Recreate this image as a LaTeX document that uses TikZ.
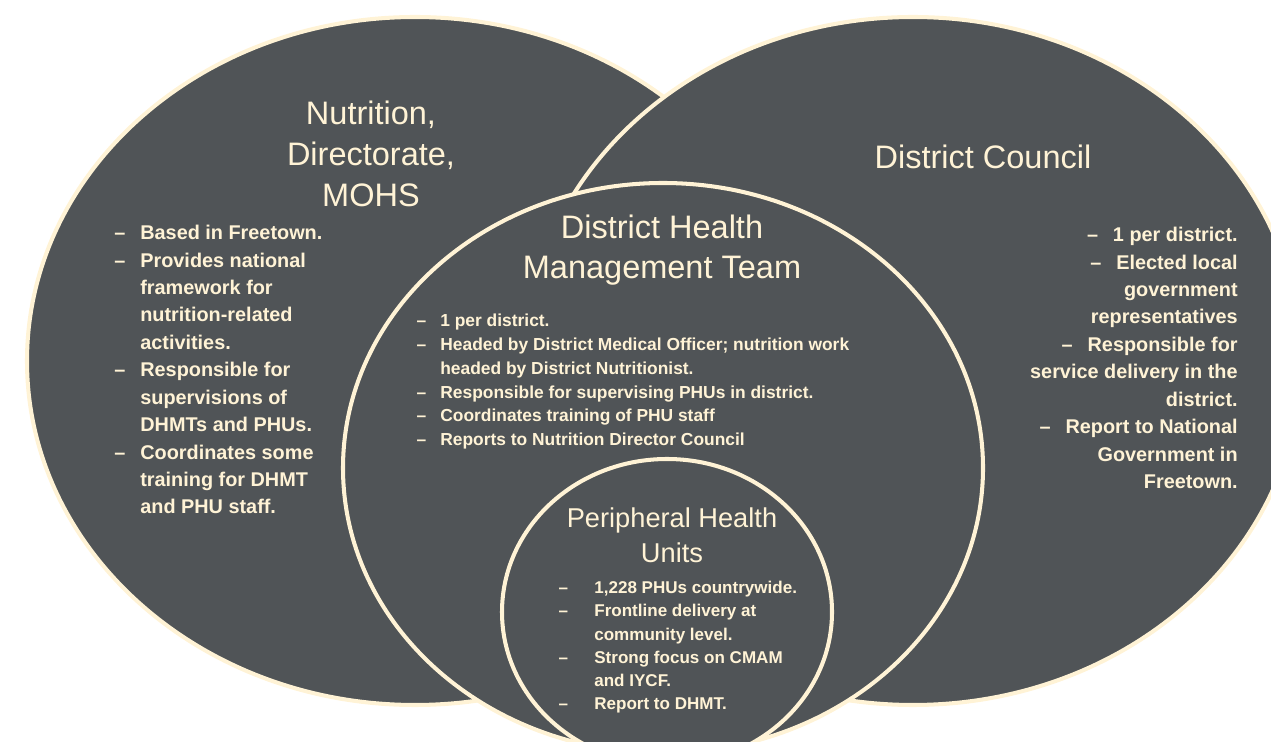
\documentclass[tikz,border=0pt]{standalone}
\usepackage{fontspec}
\setmainfont{Liberation Sans}
\usetikzlibrary{positioning}
\definecolor{slate}{RGB}{80,84,87}
\definecolor{cream}{RGB}{255,243,214}
% hanging dash in front of a list entry
\newcommand\itemdash[1][8.5pt]{\llap{--\hspace{#1}}}

\begin{document}
\begin{tikzpicture}[x=0.02cm,y=-0.02cm,
	zone/.style={fill=slate, draw=cream, line width=2.3pt},
	head/.style={text=cream, align=center, inner sep=0pt, font=\fontsize{18.5}{23.2}\selectfont},
	items/.style={text=cream, align=left, inner sep=0pt, anchor=north west, font=\bfseries\fontsize{11.3}{15.6}\selectfont}]

		\useasboundingbox (0,0) rectangle (1271,742);
		\clip (0,0) rectangle (1271,742);

		% the four areas, back to front
		\draw[zone] (415,361) ellipse [x radius=388, y radius=344];
		\draw[zone] (913,361) ellipse [x radius=388, y radius=344];
		\draw[zone] (663,468) ellipse [x radius=320, y radius=285];
		\draw[zone] (667,612) ellipse [x radius=165, y radius=153];

		% ministry
		\node[head] (mohs) at (371,154) {Nutrition,\\Directorate,\\MOHS};
		\node[items] (mohslist) at (140,225) {\itemdash Based in Freetown.\\
			\itemdash Provides national\\framework for\\nutrition-related\\activities.\\
			\itemdash Responsible for\\supervisions of\\DHMTs and PHUs.\\
			\itemdash Coordinates some\\training for DHMT\\and PHU staff.};

		% council
		\node[head] (dc) at (983,157) {District Council};
		\node[items, align=right, anchor=north east] (dclist) at (1238,227) {--\hspace{8.5pt}1 per district.\\
			--\hspace{8.5pt}Elected local\\government\\representatives\\
			--\hspace{8.5pt}Responsible for\\service delivery in the\\district.\\
			--\hspace{8.5pt}Report to National\\Government in\\Freetown.};

		% district team
		\node[head] (dhmt) at (662,250) {District Health\\Management Team};
		\node[items, font=\bfseries\fontsize{9.9}{13.5}\selectfont] (dhmtlist) at (440,314) {\itemdash[8pt]1 per district.\\
			\itemdash[8pt]Headed by District Medical Officer; nutrition work\\headed by District Nutritionist.\\
			\itemdash[8pt]Responsible for supervising PHUs in district.\\
			\itemdash[8pt]Coordinates training of PHU staff\\
			\itemdash[8pt]Reports to Nutrition Director Council};

		% health units
		\node[head, font=\fontsize{15.5}{19.8}\selectfont] (phu) at (672,535) {Peripheral Health\\Units};
		\node[items, font=\bfseries\fontsize{9.7}{13.2}\selectfont] (phulist) at (594,581) {\itemdash[15pt]1,228 PHUs countrywide.\\
			\itemdash[15pt]Frontline delivery at\\community level.\\
			\itemdash[15pt]Strong focus on CMAM\\and IYCF.\\
			\itemdash[15pt]Report to DHMT.};

\end{tikzpicture}
\end{document}
